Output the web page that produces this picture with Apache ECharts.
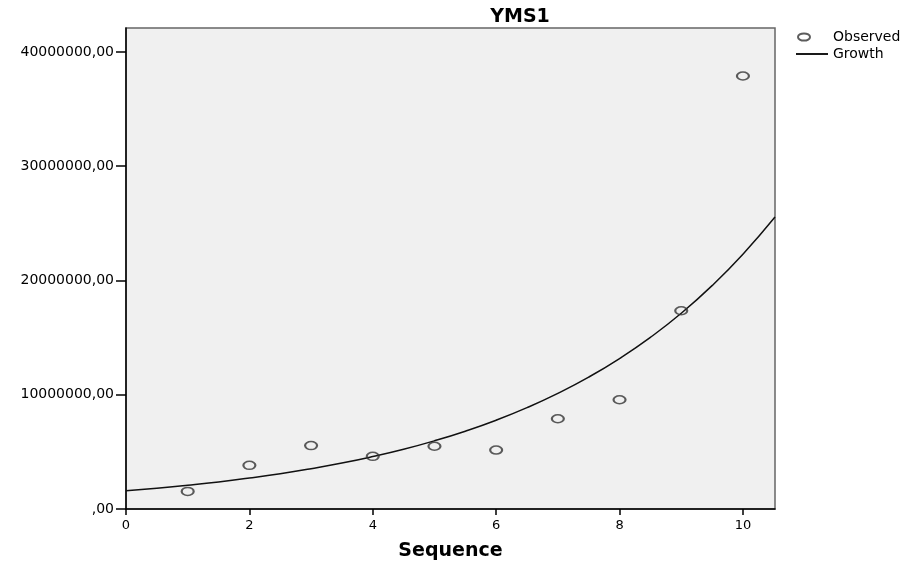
<!DOCTYPE html>
<html>
<head>
<meta charset="utf-8">
<title>YMS1</title>
<script src="https://cdn.jsdelivr.net/npm/echarts@6/dist/echarts.min.js"></script>
<style>
  html, body { margin: 0; padding: 0; background: #ffffff; }
  #chart { width: 913px; height: 570px; }
</style>
</head>
<body>
<div id="chart"></div>
<script>
// Observed YMS1 values by sequence
const sequence = [1, 2, 3, 4, 5, 6, 7, 8, 9, 10];
const observed = [1540000, 3820000, 5550000, 4610000, 5490000, 5160000, 7900000, 9560000, 17350000, 37900000];

// Fitted growth curve, sampled along the sequence axis
const growthX = [0, 0.5, 1, 1.5, 2, 2.5, 3, 3.5, 4, 4.5, 5, 5.5, 6, 6.5, 7, 7.5, 8, 8.5, 9, 9.5, 10, 10.52];
const growthY = [1600000, 1820000, 2080000, 2370000, 2710000, 3090000, 3530000, 4020000, 4590000, 5230000,
                 5970000, 6810000, 7770000, 8870000, 10120000, 11540000, 13170000, 15020000, 17130000, 19550000,
                 22300000, 25550000];

// Tick values
const xTicks = [0, 2, 4, 6, 8, 10];
const yTicks = [0, 10000000, 20000000, 30000000, 40000000];

const FONT = '"DejaVu Sans", "Liberation Sans", sans-serif';
const ellipse = 'path://M0,5 A7,5 0 1 1 14,5 A7,5 0 1 1 0,5 Z';
// legend markers inside a 32x8 box: ellipse on the left, thin full-width line
const legendEllipse = 'path://M0,0 M32,8 M2,4 A6,3.6 0 1 1 14,4 A6,3.6 0 1 1 2,4 Z';
const legendLine = 'path://M0,0 M32,8 M0,3.1 L32,3.1 L32,4.9 L0,4.9 Z';

const chart = echarts.init(document.getElementById('chart'), null, { renderer: 'canvas' });

chart.setOption({
  animation: false,
  backgroundColor: '#ffffff',
  title: {
    text: 'YMS1',
    left: 515,
    top: 3,
    textAlign: 'center',
    textStyle: { fontFamily: FONT, fontWeight: 'bold', fontSize: 19, color: '#000' }
  },
  legend: {
    left: 790,
    top: 25,
    orient: 'vertical',
    itemWidth: 32,
    itemHeight: 8,
    itemGap: 3,
    data: [
      { name: 'Observed', icon: legendEllipse },
      { name: 'Growth', icon: legendLine, itemStyle: { color: '#000' } }
    ],
    textStyle: { fontFamily: FONT, fontSize: 14, color: '#000' }
  },
  grid: {
    left: 126,
    top: 28,
    width: 649,
    height: 481,
    show: true,
    backgroundColor: '#f0f0f0',
    borderColor: '#666',
    borderWidth: 1.5
  },
  xAxis: {
    type: 'value',
    min: 0,
    max: 10.52,
    interval: 2,
    name: 'Sequence',
    nameLocation: 'middle',
    nameGap: 33,
    nameTextStyle: { fontFamily: FONT, fontWeight: 'bold', fontSize: 19, color: '#000' },
    axisLine: { show: true, lineStyle: { color: '#000', width: 1.5 } },
    axisTick: { show: true, length: 6, lineStyle: { color: '#000', width: 1.5 }, customValues: xTicks },
    axisLabel: { fontFamily: FONT, fontSize: 13, color: '#000', margin: 10, customValues: xTicks },
    splitLine: { show: false }
  },
  yAxis: {
    type: 'value',
    min: 0,
    max: 42100000,
    interval: 10000000,
    axisLine: { show: true, lineStyle: { color: '#000', width: 1.5 } },
    axisTick: { show: true, length: 10, lineStyle: { color: '#000', width: 1.5 }, customValues: yTicks },
    axisLabel: {
      fontFamily: FONT,
      fontSize: 14,
      color: '#000',
      margin: 12,
      customValues: yTicks,
      formatter: v => (v === 0 ? ',00' : String(v) + ',00')
    },
    splitLine: { show: false }
  },
  series: [
    {
      name: 'Observed',
      type: 'scatter',
      symbol: ellipse,
      symbolSize: [12, 8],
      itemStyle: { color: 'rgba(0,0,0,0)', borderColor: '#333', borderWidth: 1.8 },
      data: sequence.map((s, i) => [s, observed[i]]),
      z: 3
    },
    {
      name: 'Growth',
      type: 'line',
      smooth: true,
      showSymbol: false,
      symbol: 'none',
      lineStyle: { color: '#111', width: 1.5 },
      itemStyle: { color: '#111' },
      data: growthX.map((x, i) => [x, growthY[i]]),
      z: 2
    }
  ]
});
</script>
</body>
</html>
